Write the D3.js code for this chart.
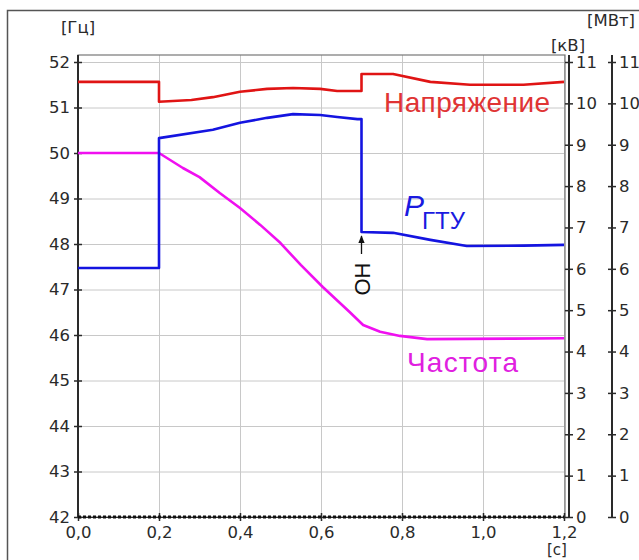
<!DOCTYPE html>
<html>
<head>
<meta charset="utf-8">
<script src="https://cdn.jsdelivr.net/npm/d3@7"></script>
<style>
  body { margin: 0; background: #fff; }
  svg { display: block; }
</style>
</head>
<body>
<div id="chart"></div>
<script>
// time, s
const xTicks = [0, 0.2, 0.4, 0.6, 0.8, 1.0, 1.2];
const hzTicks = [42, 43, 44, 45, 46, 47, 48, 49, 50, 51, 52];
const rightTicks = [0, 1, 2, 3, 4, 5, 6, 7, 8, 9, 10, 11];

// voltage, kV (right inner axis)
const voltT = [0, 0.2, 0.2, 0.28, 0.333, 0.4, 0.467, 0.531, 0.598, 0.64, 0.7, 0.7, 0.778, 0.87, 0.968, 1.1, 1.2];
const voltV = [10.52, 10.52, 10.04, 10.08, 10.15, 10.28, 10.35, 10.37, 10.35, 10.30, 10.30, 10.71, 10.71, 10.52, 10.45, 10.45, 10.52];

// GTU power, MW (right outer axis)
const powerT = [0, 0.2, 0.2, 0.333, 0.4, 0.467, 0.531, 0.598, 0.64, 0.69, 0.7, 0.7, 0.778, 0.87, 0.96, 1.1, 1.2];
const powerV = [6.02, 6.02, 9.16, 9.36, 9.53, 9.65, 9.74, 9.72, 9.67, 9.62, 9.62, 6.89, 6.87, 6.70, 6.55, 6.56, 6.58];

// frequency, Hz (left axis)
const freqT = [0, 0.2, 0.259, 0.30, 0.35, 0.40, 0.45, 0.50, 0.55, 0.605, 0.67, 0.704, 0.746, 0.795, 0.862, 1.074, 1.2];
const freqV = [50, 50, 49.67, 49.47, 49.12, 48.79, 48.42, 48.02, 47.54, 47.05, 46.51, 46.22, 46.07, 45.98, 45.91, 45.92, 45.93];

const width = 639;
const height = 560;
const pLeft = 78, pRight = 564, pTop = 62, pBottom = 517, boxTop = 55;
const font = "'DejaVu Sans', Verdana, sans-serif";
const axisColor = "#2a2a2a";

const svg = d3.select("#chart").append("svg")
    .attr("width", width)
    .attr("height", height);

// outer frame
svg.append("rect")
    .attr("x", 7.5).attr("y", 10.5)
    .attr("width", width).attr("height", height)
    .attr("fill", "none")
    .attr("stroke", "#555")
    .attr("stroke-width", 1.5);

const x = d3.scaleLinear().domain([0, 1.2]).range([pLeft, pRight]);
const yHz = d3.scaleLinear().domain([42, 52]).range([pBottom, pTop]);
const yR = d3.scaleLinear().domain([0, 11]).range([pBottom, pTop]);

const fmt = d => d3.format(".1f")(d).replace(".", ",");

// gridlines
svg.append("g")
    .attr("transform", `translate(0, ${pBottom})`)
    .attr("color", "#c8c8c8")
    .call(d3.axisBottom(x).tickValues(xTicks).tickSize(-(pBottom - boxTop)).tickFormat(""))
    .call(g => g.select(".domain").remove());
svg.append("g")
    .attr("transform", `translate(${pLeft}, 0)`)
    .attr("color", "#c8c8c8")
    .call(d3.axisLeft(yHz).tickValues(hzTicks).tickSize(-(pRight - pLeft)).tickFormat(""))
    .call(g => g.select(".domain").remove());

// plot box
svg.append("rect")
    .attr("x", pLeft).attr("y", boxTop)
    .attr("width", pRight + 1 - pLeft).attr("height", pBottom - boxTop)
    .attr("fill", "none")
    .attr("stroke", "#777")
    .attr("stroke-width", 1.2);

function crossTicks(g, horiz) {
    g.selectAll(".tick line")
        .attr(horiz ? "y1" : "x1", 4)
        .attr(horiz ? "y2" : "x2", -4)
        .attr("stroke-width", 1.5);
    g.selectAll(".tick text")
        .style("font-family", font)
        .style("font-size", "16.5px")
        .attr("fill", axisColor);
}

// left Hz axis
svg.append("g")
    .attr("transform", `translate(${pLeft}, 0)`)
    .attr("color", axisColor)
    .call(d3.axisLeft(yHz).tickValues(hzTicks).tickSize(4).tickPadding(4).tickSizeOuter(0))
    .call(g => g.select(".domain").attr("d", `M0,${boxTop}V${pBottom}`).attr("stroke-width", 2))
    .call(g => crossTicks(g, false));

// bottom time axis
svg.append("g")
    .attr("transform", `translate(0, ${pBottom})`)
    .attr("color", axisColor)
    .call(d3.axisBottom(x).tickValues(xTicks).tickFormat(fmt).tickSize(4).tickPadding(5).tickSizeOuter(0))
    .call(g => g.select(".domain").attr("stroke-width", 1))
    .call(g => crossTicks(g, true));
svg.append("line")
    .attr("x1", pLeft).attr("x2", pRight)
    .attr("y1", pBottom).attr("y2", pBottom)
    .attr("stroke", "#111")
    .attr("stroke-width", 3)
    .attr("stroke-dasharray", "3,2");

// right kV axis
svg.append("g")
    .attr("transform", "translate(569, 0)")
    .attr("color", axisColor)
    .call(d3.axisRight(yR).tickValues(rightTicks).tickSize(4).tickPadding(3).tickSizeOuter(0))
    .call(g => g.select(".domain").attr("d", `M0,${boxTop}V${pBottom}`).attr("stroke-width", 2))
    .call(g => crossTicks(g, false));

// right MW axis
svg.append("g")
    .attr("transform", "translate(612, 0)")
    .attr("color", axisColor)
    .call(d3.axisRight(yR).tickValues(rightTicks).tickSize(4).tickPadding(3).tickSizeOuter(0))
    .call(g => g.select(".domain").attr("d", `M0,${boxTop}V${pBottom}`).attr("stroke-width", 2))
    .call(g => crossTicks(g, false));

// unit labels
const units = [
    { t: "[Гц]", x: 78, y: 33 },
    { t: "[МВт]", x: 611, y: 26 },
    { t: "[кВ]", x: 568, y: 51 },
    { t: "[с]", x: 557, y: 555 }
];
svg.selectAll(".unit")
    .data(units)
    .enter()
    .append("text")
    .attr("x", d => d.x)
    .attr("y", d => d.y)
    .attr("text-anchor", "middle")
    .style("font-family", font)
    .style("font-size", d => d.t === "[с]" ? "15px" : "16.5px")
    .attr("fill", axisColor)
    .text(d => d.t);

// series
function drawLine(ts, vs, y, colour) {
    svg.append("path")
        .datum(ts.map((t, i) => [t, vs[i]]))
        .attr("fill", "none")
        .attr("stroke", colour)
        .attr("stroke-width", 2.6)
        .attr("stroke-linejoin", "round")
        .attr("d", d3.line()
            .x(d => x(d[0]))
            .y(d => y(d[1]))
        );
}
drawLine(freqT, freqV, yHz, "#f010f0");
drawLine(voltT, voltV, yR, "#e01414");
drawLine(powerT, powerV, yR, "#1414e0");

// series labels
const labelFont = "'Liberation Sans', Arial, sans-serif";
svg.append("text")
    .attr("x", 384).attr("y", 112)
    .attr("textLength", 166)
    .style("font-family", labelFont)
    .style("font-size", "28px")
    .attr("fill", "#e03434")
    .text("Напряжение");

svg.append("text")
    .attr("x", 407).attr("y", 372)
    .attr("textLength", 111)
    .style("font-family", labelFont)
    .style("font-size", "28px")
    .attr("fill", "#e020e0")
    .text("Частота");

const pLabel = svg.append("text")
    .attr("x", 404).attr("y", 216)
    .style("font-family", labelFont)
    .attr("fill", "#1a1ae0");
pLabel.append("tspan")
    .style("font-size", "30px")
    .style("font-style", "italic")
    .text("P");
pLabel.append("tspan")
    .attr("dy", 13)
    .attr("dx", -2)
    .style("font-size", "24px")
    .text("ГТУ");

// load shedding marker
svg.append("defs").append("marker")
    .attr("id", "arrow")
    .attr("viewBox", "0 0 10 10")
    .attr("refX", 9).attr("refY", 5)
    .attr("markerWidth", 6).attr("markerHeight", 6)
    .attr("orient", "auto")
    .append("path")
    .attr("d", "M0,1L10,5L0,9z")
    .attr("fill", "#111");
svg.append("line")
    .attr("x1", x(0.7)).attr("x2", x(0.7))
    .attr("y1", 254).attr("y2", 236)
    .attr("stroke", "#111")
    .attr("stroke-width", 1.3)
    .attr("marker-end", "url(#arrow)");
svg.append("text")
    .attr("transform", `translate(${x(0.7) + 8}, 279) rotate(-90)`)
    .attr("text-anchor", "middle")
    .style("font-family", labelFont)
    .style("font-size", "22px")
    .attr("fill", "#111")
    .text("ОН");
</script>
</body>
</html>
